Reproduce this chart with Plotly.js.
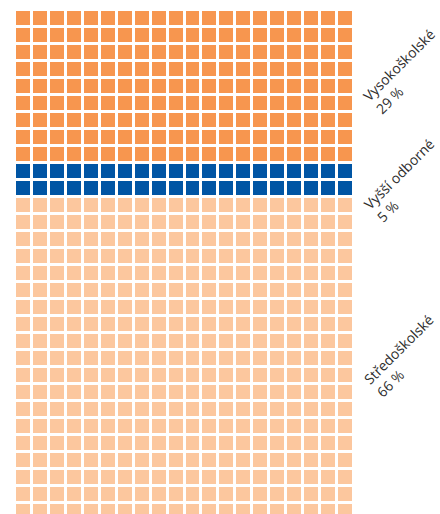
<!DOCTYPE html>
<html>
<head>
<meta charset="utf-8">
<script src="https://cdn.plot.ly/plotly-3.0.1.min.js"></script>
<style>
html,body{margin:0;padding:0;background:#fff;}
#chart{width:440px;height:514px;}
</style>
</head>
<body>
<div id="chart"></div>
<script>
// Data
var categories = ["Vysokoškolské", "Vyšší odborné", "Středoškolské"];
var percents = [29, 5, 66];
var rowCounts = [9, 2, 20];      // rows of squares per category (20 squares per row)
var columnsPerRow = 20;
var colors = ["#F7964F", "#0055A4", "#FCC79E"];

// Build the waffle matrix
var z = [];
var text = [];
var r0 = 0;
for (var i = 0; i < categories.length; i++) {
  for (var r = 0; r < rowCounts[i]; r++) {
    var row = [], trow = [];
    for (var c = 0; c < columnsPerRow; c++) { row.push(i); trow.push(categories[i] + " " + percents[i] + " %"); }
    z.push(row); text.push(trow);
  }
  r0 += rowCounts[i];
}
var xs = [], ys = [];
for (var c = 0; c < columnsPerRow; c++) xs.push(c);
for (var r = 0; r < r0; r++) ys.push(r);

var n = categories.length;
var colorscale = [];
for (var i = 0; i < n; i++) {
  colorscale.push([i / n, colors[i]]);
  colorscale.push([(i + 1) / n, colors[i]]);
}

var trace = {
  type: "heatmap",
  x: xs, y: ys, z: z, text: text,
  hoverinfo: "text",
  zmin: -0.5, zmax: n - 0.5,
  colorscale: colorscale,
  showscale: false,
  xgap: 3, ygap: 3
};

var plotH = 504, plotT = 10;
var labelY = [3.1, 9.5, 19.8];
var annotations = [];
for (var i = 0; i < n; i++) {
  annotations.push({
    xref: "paper", yref: "y",
    x: 1.15, y: labelY[i],
    text: categories[i] + "<br>" + percents[i] + " %",
    showarrow: false,
    textangle: -45,
    align: "left",
    xanchor: "center", yanchor: "middle",
    font: {family: "Open Sans, sans-serif", size: 14, color: "#2e2e2e"}
  });
}

var layout = {
  width: 440, height: 514,
  margin: {l: 14.5, r: 85.5, t: plotT, b: 0, pad: 0},
  paper_bgcolor: "#ffffff", plot_bgcolor: "#ffffff",
  xaxis: {range: [-0.5, columnsPerRow - 0.5], visible: false, fixedrange: true},
  yaxis: {range: [-0.5 + plotH / 17, -0.5], visible: false, fixedrange: true},
  annotations: annotations,
  showlegend: false
};

Plotly.newPlot("chart", [trace], layout, {displayModeBar: false, staticPlot: true});
</script>
</body>
</html>
